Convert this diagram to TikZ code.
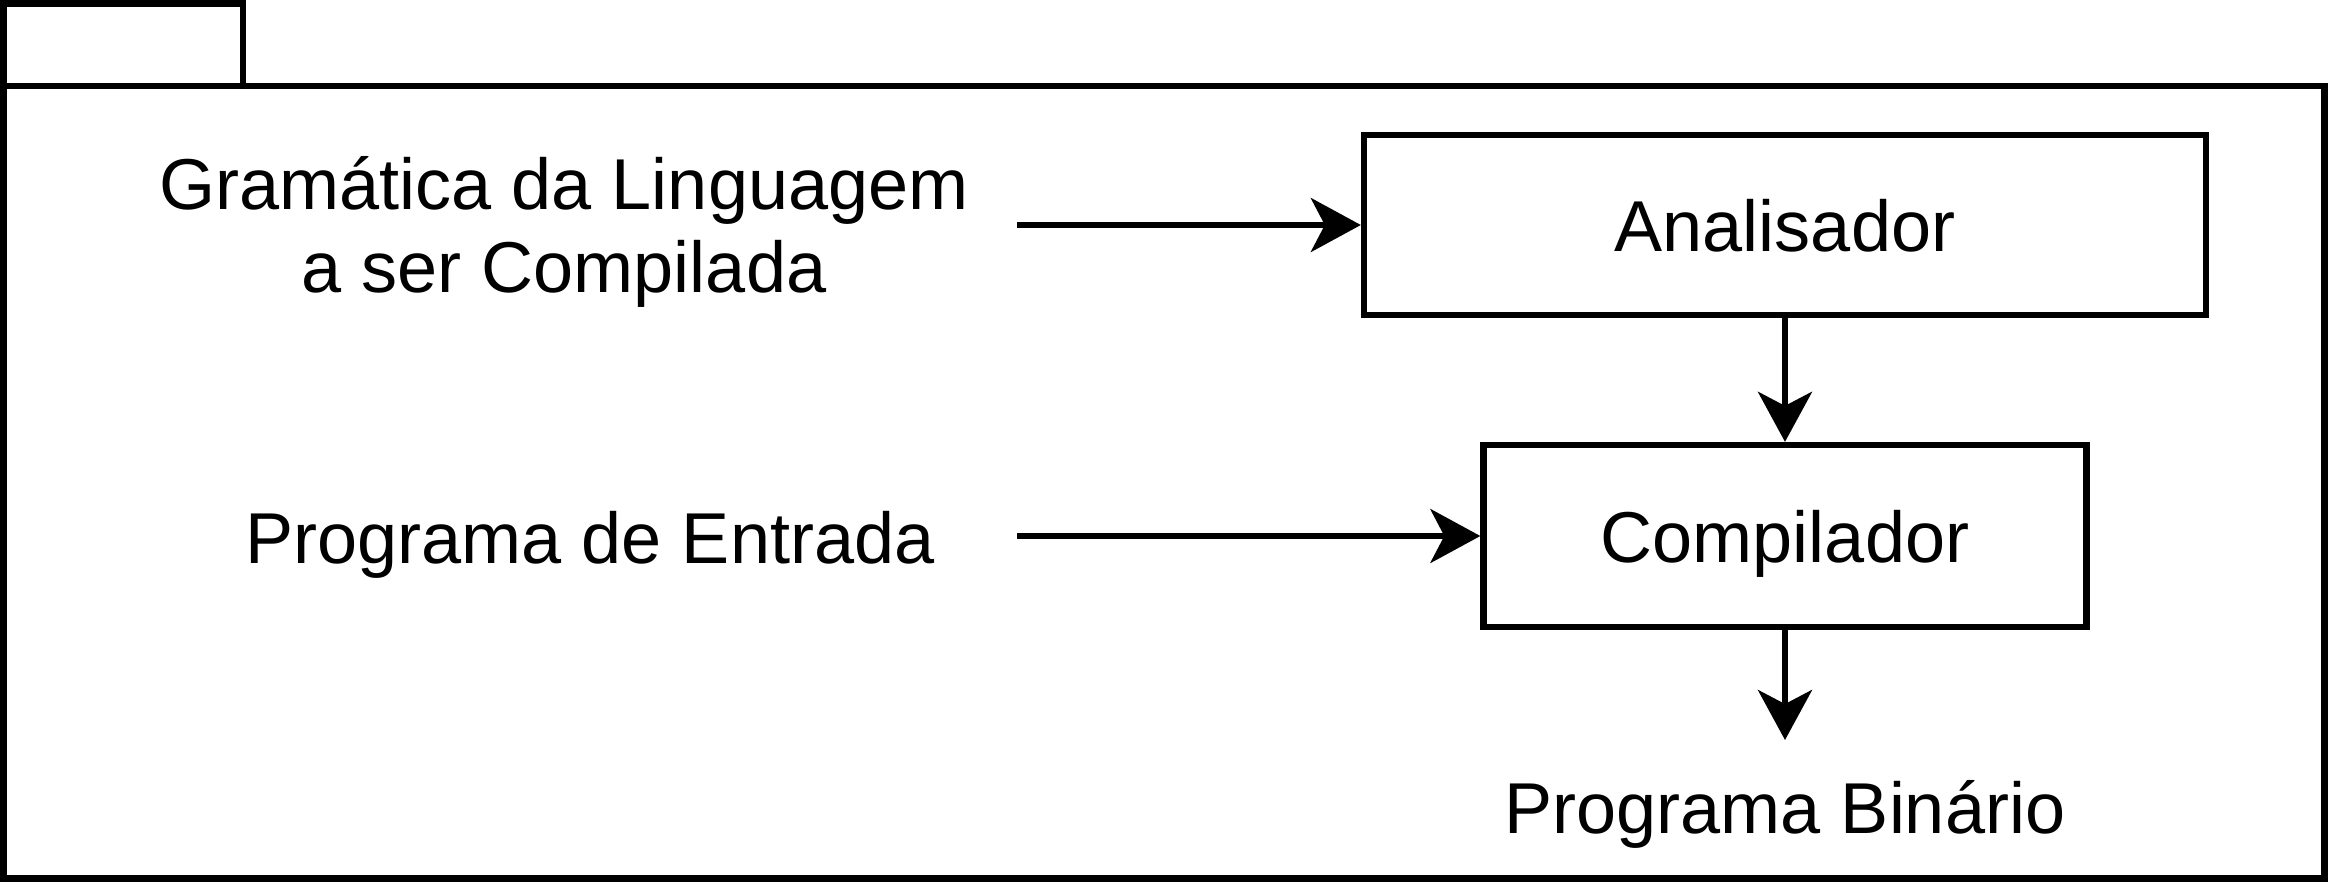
\documentclass[tikz,border=0pt]{standalone}
\usepackage{fontspec}
\setmainfont{Liberation Sans}
\usetikzlibrary{arrows.meta}

\begin{document}
\begin{tikzpicture}[
    every node/.style={font=\fontsize{20.5}{23.6}\selectfont},
    caixa/.style={draw, line width=1.8pt, text depth=0pt, inner sep=0pt},
    seta/.style={line width=1.7pt, -{Stealth[length=0.5cm, width=0.54cm, inset=0.14cm]}},
    moldura/.style={line width=1.9pt}
]
            \useasboundingbox (0, 0) rectangle (23.28, 8.82);
            \draw[moldura] (0.035, 0.035) rectangle (23.245, 7.96);
            \draw[moldura] (0.035, 7.96) rectangle (2.43, 8.785);
            \node[caixa, minimum width=8.42cm, minimum height=1.8cm] (analisador) at (17.85, 6.57) {Analisador};
            \node[caixa, minimum width=6.03cm, minimum height=1.82cm] (compilador) at (17.85, 3.46) {Compilador};
            \node[align=center] (gramatica) at (5.64, 6.50) {Gramática da Linguagem\\a ser Compilada};
            \node[anchor=base] (entrada) at (5.90, 3.19) {Programa de Entrada};
            \node[anchor=base] (binario) at (17.85, 0.49) {Programa Binário};
            \coordinate (gramatica-saida) at (10.17, 6.57);
            \coordinate (entrada-saida) at (10.17, 3.46);
            \coordinate (binario-entrada) at (17.85, 1.42);
            \draw[seta] (gramatica-saida) -- (analisador);
            \draw[seta] (entrada-saida) -- (compilador);
            \draw[seta] (analisador) -- (compilador);
            \draw[seta] (compilador) -- (binario-entrada);
\end{tikzpicture}
\end{document}
